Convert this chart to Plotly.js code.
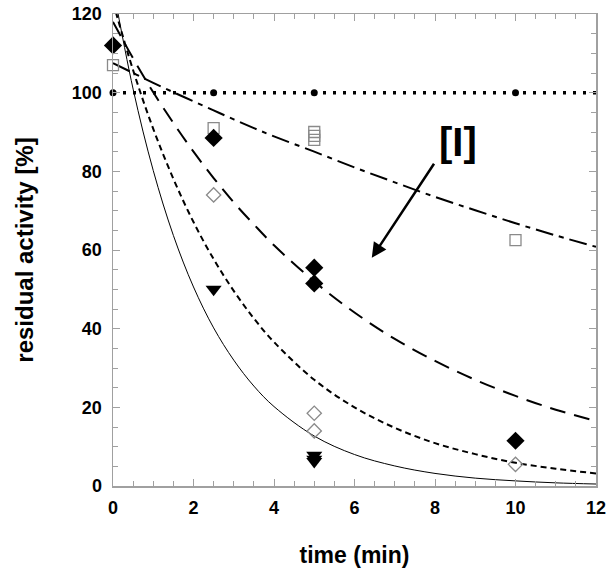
<!DOCTYPE html>
<html><head><meta charset="utf-8">
<script src="https://cdn.plot.ly/plotly-3.0.1.min.js"></script>
<style>body{margin:0;background:#fff}#chart{width:614px;height:575px}</style>
</head><body><div id="chart"></div>
<script>
// Measured data points (time in min, residual activity in %)
const circleX = [0, 2.5, 5, 10];
const circleY = [100, 100, 100, 100];
const squareX = [0, 2.5, 5, 5, 5, 10];
const squareY = [107, 91, 90, 89, 88, 62.5];
const diamondX = [0, 2.5, 5, 5, 10];
const diamondY = [112, 88.5, 55.5, 51.5, 11.5];
const openDiamondX = [2.5, 5, 5, 10];
const openDiamondY = [74, 18.5, 14, 5.5];
const triangleX = [2.5, 5, 5, 5];
const triangleY = [50, 7.8, 6.8, 6.2];

// Fitted curves
const flatX = [0, 12];
const flatY = [100, 100];
const curveX = [0, 0.5, 1, 1.5, 2, 2.5, 3, 3.5, 4, 5, 6, 7, 8, 9, 10, 11, 12];
const dashDotY = [107.5, 105, 102.5, 100.1, 97.8, 95.5, 93.2, 91.0, 88.9, 85.0, 81.0, 77.2, 73.5, 70.1, 66.8, 63.7, 60.8];
const longDashY = [118, 108.7, 100.1, 92.3, 85.0, 78.3, 72.1, 66.5, 61.2, 52.0, 44.1, 37.4, 31.8, 27.0, 22.9, 19.4, 16.5];
const shortDashY = [123, 105.7, 90.8, 78.1, 67.1, 57.7, 49.6, 42.6, 36.6, 27.0, 20.0, 14.8, 10.9, 8.1, 5.9, 4.4, 3.2];
const solidY = [127, 100.9, 80.2, 63.7, 50.6, 40.2, 32.0, 25.4, 20.2, 12.7, 8.0, 5.1, 3.2, 2.0, 1.3, 0.8, 0.5];

const xTicks = [0, 2, 4, 6, 8, 10, 12];
const yTicks = [0, 20, 40, 60, 80, 100, 120];

const lineTrace = (x, y, dash, width) => ({
  x: x, y: y, mode: 'lines', type: 'scatter', hoverinfo: 'skip',
  line: {color: '#000', width: width, dash: dash, shape: 'spline'}
});

const traces = [
  lineTrace(flatX, flatY, '3px,7px', 3.5),
  lineTrace(curveX, dashDotY, '18px,6px,5px,6px', 2),
  lineTrace(curveX, longDashY, '16px,9px', 2),
  lineTrace(curveX, shortDashY, '6px,4px', 2),
  lineTrace(curveX, solidY, 'solid', 1),
  {x: circleX, y: circleY, mode: 'markers', type: 'scatter', cliponaxis: false,
   marker: {symbol: 'circle', size: 7, color: '#000'}},
  {x: squareX, y: squareY, mode: 'markers', type: 'scatter', cliponaxis: false,
   marker: {symbol: 'square-open', size: 11, color: '#8a8a8a', line: {width: 1.3}}},
  {x: diamondX, y: diamondY, mode: 'markers', type: 'scatter', cliponaxis: false,
   marker: {symbol: 'diamond', size: 14, color: '#000'}},
  {x: openDiamondX, y: openDiamondY, mode: 'markers', type: 'scatter', cliponaxis: false,
   marker: {symbol: 'diamond-open', size: 11, color: '#8a8a8a', line: {width: 1.3}}},
  {x: triangleX, y: triangleY, mode: 'markers', type: 'scatter', cliponaxis: false,
   marker: {symbol: 'triangle-down', size: 14, color: '#000'}}
];

const axisCommon = {
  showgrid: false, zeroline: false, showline: true, linecolor: '#a0a0a0', linewidth: 1.5,
  mirror: 'allticks', ticks: 'inside', ticklen: 7, tickcolor: '#a0a0a0', tickwidth: 1,
  tickfont: {family: 'Liberation Sans, Arial, sans-serif', size: 18, color: '#000', weight: 'bold'},
  fixedrange: true
};

const layout = {
  width: 614, height: 575,
  margin: {l: 113, r: 18, t: 14, b: 89},
  paper_bgcolor: '#fff', plot_bgcolor: '#fff',
  showlegend: false,
  font: {family: 'Liberation Sans, Arial, sans-serif', color: '#000'},
  xaxis: Object.assign({}, axisCommon, {
    range: [0, 12], tickvals: xTicks, ticktext: xTicks.map(String),
    ticklabelstandoff: 5,
    minor: {dtick: 0.5, ticks: 'inside', ticklen: 5, tickcolor: '#a0a0a0'},
    title: {text: 'time (min)', standoff: 30,
            font: {family: 'Liberation Sans, Arial, sans-serif', size: 23, weight: 'bold', color: '#000'}}
  }),
  yaxis: Object.assign({}, axisCommon, {
    range: [0, 120], tickvals: yTicks, ticktext: yTicks.map(String),
    ticklabelstandoff: 6,
    minor: {dtick: 5, ticks: 'inside', ticklen: 5, tickcolor: '#a0a0a0'},
    title: {text: 'residual activity [%]', standoff: 31,
            font: {family: 'Liberation Sans, Arial, sans-serif', size: 24, weight: 'bold', color: '#000'}}
  }),
  annotations: [
    {x: 8.57, y: 87.5, xref: 'x', yref: 'y', text: '[I]', showarrow: false,
     font: {family: 'Liberation Sans, Arial, sans-serif', size: 40, color: '#000', weight: 'bold'}},
    {x: 6.43, y: 58, ax: 8.0, ay: 82.3, xref: 'x', yref: 'y', axref: 'x', ayref: 'y',
     text: '', showarrow: true, arrowhead: 2, arrowsize: 1.2, arrowwidth: 2.5, arrowcolor: '#000'}
  ]
};

Plotly.newPlot('chart', traces, layout, {displayModeBar: false, staticPlot: true});
</script>
</body></html>
